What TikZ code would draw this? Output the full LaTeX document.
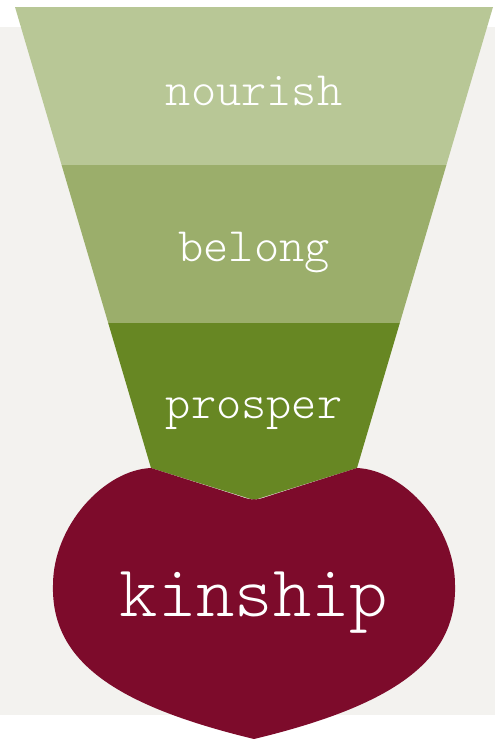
\documentclass[tikz,border=0pt]{standalone}
\usepackage{fontspec}
\newfontfamily\slabfont{Latin Modern Mono Light}
\definecolor{paper}{HTML}{F3F2EF}
\definecolor{sage}{HTML}{B8C796}
\definecolor{moss}{HTML}{9BAE6B}
\definecolor{leaf}{HTML}{678723}
\definecolor{beet}{HTML}{7D0B2B}
\tikzset{
  band/.style={fill=#1, draw=none},
  word/.style={text=white, anchor=base, inner sep=0pt,
    font=\slabfont\fontsize{48}{48}\selectfont},
  bigword/.style={word, font=\slabfont\fontsize{73}{73}\selectfont}
}
\begin{document}
\begin{tikzpicture}[x=1pt, y=-1pt]
  \useasboundingbox (0,0) rectangle (495,739);
  % Sfondo
  \fill[paper] (0,27) rectangle (495,715);

  % Imbuto
  \fill[band=sage] (15,7) -- (493,7) -- (446.4,165) -- (61.6,165) -- cycle;
  \fill[band=moss] (61.6,165) -- (446.4,165) -- (399.8,323) -- (108.2,323) -- cycle;
  \fill[band=leaf] (108.2,323) -- (399.8,323) -- (357,468) -- (254,500) -- (151,468) -- cycle;

  % Cuore
  \fill[beet] (151,468) -- (236,495) .. controls (254,501) .. (272,495) -- (357,468)
    .. controls (404,470) and (455,526) .. (455,585)
    .. controls (457,660) and (395,705) .. (254,739)
    .. controls (113,705) and (51,660) .. (53,585)
    .. controls (53,526) and (104,470) .. (151,468) -- cycle;

  % Parole
  \node[word] (nourish) at (254,105) {nourish};
  \node[word] (belong) at (254,261) {belong};
  \node[word] (prosper) at (254,418) {prosper};
  \node[bigword] (kinship) at (254,616) {kinship};
\end{tikzpicture}
\end{document}
